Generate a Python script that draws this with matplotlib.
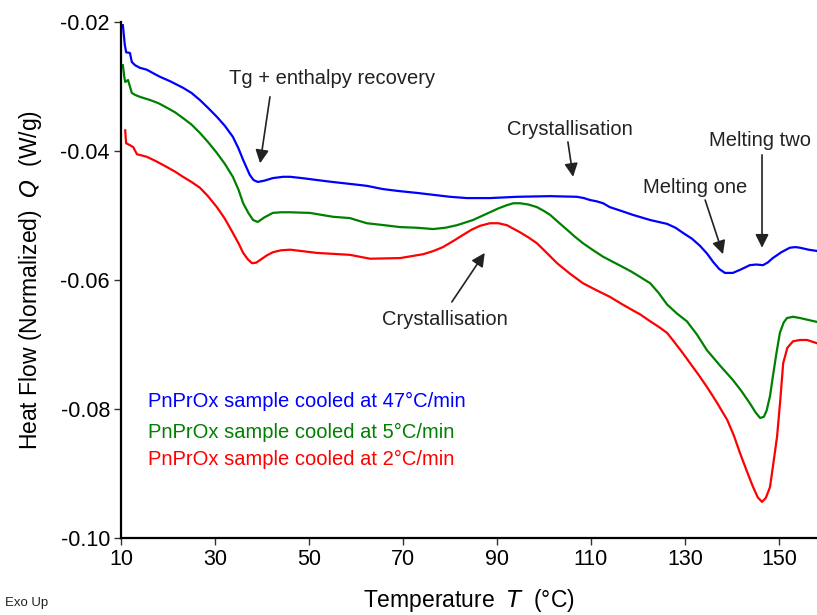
import matplotlib
matplotlib.use("Agg")
import matplotlib.pyplot as plt

plt.rcParams["font.family"] = ["Liberation Sans", "DejaVu Sans"]
plt.rcParams["axes.unicode_minus"] = False

# DSC heating traces (temperature in °C, normalized heat flow in W/g)
t_47 = [10.4, 10.8, 11.1, 11.9, 12.3, 13.0, 14.0, 15.5, 17.0, 18.3, 20.5, 23.2,
        25.0, 26.8, 28.5, 30.4, 32.1, 33.8, 35.0, 36.0, 37.4, 38.2, 39.1, 40.5,
        42.3, 44.5, 46.0, 48.5, 51.7, 55.0, 58.7, 62.3, 65.7, 69.0, 73.0, 76.5,
        80.0, 83.6, 88.5, 94.3, 101.3, 107.0, 108.5, 109.8, 111.2, 112.6, 114.0,
        116.5, 118.9, 122.6, 126.2, 128.0, 129.6, 131.5, 133.2, 134.7, 136.0,
        137.3, 138.5, 140.2, 141.8, 143.8, 145.2, 146.6, 147.6, 148.7, 150.5,
        152.3, 153.5, 154.5, 156.3, 158.1]
q_47 = [-0.0205, -0.0235, -0.0247, -0.0248, -0.0262, -0.0267, -0.0271, -0.0274,
        -0.0280, -0.0285, -0.0292, -0.0302, -0.0310, -0.0321, -0.0333, -0.0347,
        -0.0361, -0.0378, -0.0396, -0.0414, -0.0437, -0.0445, -0.0448, -0.0446,
        -0.0442, -0.0440, -0.0440, -0.0442, -0.0445, -0.0448, -0.0451, -0.0454,
        -0.0459, -0.0462, -0.0465, -0.0468, -0.0471, -0.0473, -0.0473, -0.0471,
        -0.0470, -0.0471, -0.0473, -0.0476, -0.0478, -0.0481, -0.0487, -0.0493,
        -0.0499, -0.0507, -0.0513, -0.0519, -0.0527, -0.0536, -0.0547, -0.0559,
        -0.0572, -0.0583, -0.0589, -0.0589, -0.0584, -0.0577, -0.0576, -0.0577,
        -0.0573, -0.0566, -0.0557, -0.0550, -0.0549, -0.0550, -0.0553, -0.0555]

t_5 = [10.4, 10.7, 10.9, 11.5, 12.3, 13.0, 14.0, 16.2, 18.0, 19.8, 21.5, 23.2,
       25.0, 26.8, 28.5, 30.4, 32.1, 33.8, 35.0, 36.0, 37.1, 38.1, 39.1, 40.5,
       42.3, 44.0, 46.0, 50.2, 55.1, 58.7, 62.3, 66.0, 69.4, 73.0, 76.4, 79.0,
       81.5, 83.2, 84.9, 86.7, 88.5, 90.3, 92.1, 93.5, 94.9, 96.7, 98.5, 100.0,
       101.3, 103.0, 104.9, 106.6, 108.3, 110.5, 112.6, 114.7, 116.8, 118.6,
       120.4, 122.6, 124.4, 126.2, 128.3, 130.4, 132.5, 134.7, 137.5, 140.2,
       142.0, 143.8, 145.0, 146.0, 146.8, 147.4, 148.1, 148.7, 149.5, 150.2,
       151.0, 151.7, 153.0, 154.5, 156.3, 158.1]
q_5 = [-0.0267, -0.0285, -0.0293, -0.0290, -0.0310, -0.0313, -0.0316, -0.0321,
       -0.0326, -0.0333, -0.0340, -0.0349, -0.0359, -0.0372, -0.0386, -0.0403,
       -0.0420, -0.0440, -0.0460, -0.0481, -0.0496, -0.0507, -0.0510, -0.0503,
       -0.0496, -0.0495, -0.0495, -0.0496, -0.0502, -0.0504, -0.0512, -0.0515,
       -0.0518, -0.0519, -0.0521, -0.0519, -0.0515, -0.0511, -0.0507, -0.0501,
       -0.0495, -0.0489, -0.0484, -0.0481, -0.0481, -0.0483, -0.0487, -0.0493,
       -0.0499, -0.0510, -0.0522, -0.0533, -0.0543, -0.0554, -0.0564, -0.0572,
       -0.0580, -0.0587, -0.0595, -0.0605, -0.0620, -0.0638, -0.0652, -0.0664,
       -0.0684, -0.0709, -0.0733, -0.0755, -0.0772, -0.0791, -0.0805, -0.0814,
       -0.0812, -0.0802, -0.0780, -0.0750, -0.0712, -0.0682, -0.0666, -0.0659,
       -0.0657, -0.0659, -0.0662, -0.0665]

t_2 = [10.9, 11.0, 11.1, 11.9, 12.6, 13.4, 15.5, 17.5, 19.8, 21.5, 23.2, 25.0,
       26.8, 28.5, 30.4, 32.1, 33.8, 35.0, 36.0, 37.0, 37.9, 38.8, 39.6, 41.0,
       42.3, 44.0, 46.0, 51.7, 58.7, 63.0, 69.4, 74.3, 76.5, 78.5, 80.6, 82.8,
       84.6, 86.4, 88.5, 90.3, 92.1, 94.9, 96.7, 98.5, 100.6, 102.8, 105.5,
       108.3, 111.2, 114.0, 116.5, 118.9, 120.4, 122.6, 124.5, 126.2, 127.4,
       129.2, 131.1, 132.9, 134.7, 136.8, 139.0, 140.4, 141.7, 143.1, 144.5,
       145.5, 146.4, 147.2, 148.1, 148.8, 149.6, 150.3, 150.9, 151.8, 153.0,
       154.5, 156.0, 158.1]
q_2 = [-0.0368, -0.0380, -0.0388, -0.0391, -0.0394, -0.0405, -0.0409, -0.0416,
       -0.0425, -0.0432, -0.0440, -0.0448, -0.0457, -0.0470, -0.0487, -0.0505,
       -0.0527, -0.0543, -0.0558, -0.0568, -0.0574, -0.0573, -0.0569, -0.0562,
       -0.0557, -0.0554, -0.0553, -0.0558, -0.0561, -0.0567, -0.0566, -0.0560,
       -0.0555, -0.0549, -0.0540, -0.0530, -0.0522, -0.0516, -0.0512, -0.0512,
       -0.0515, -0.0526, -0.0534, -0.0543, -0.0558, -0.0574, -0.0590, -0.0605,
       -0.0616, -0.0626, -0.0637, -0.0647, -0.0653, -0.0664, -0.0673, -0.0682,
       -0.0693, -0.0710, -0.0729, -0.0747, -0.0766, -0.0790, -0.0817, -0.0841,
       -0.0868, -0.0895, -0.0921, -0.0937, -0.0944, -0.0938, -0.0921, -0.0885,
       -0.0843, -0.0785, -0.0729, -0.0705, -0.0695, -0.0693, -0.0693, -0.0698]

series_labels = ["PnPrOx sample cooled at 47°C/min",
                 "PnPrOx sample cooled at 5°C/min",
                 "PnPrOx sample cooled at 2°C/min"]
series_colors = ["#0000ff", "#008000", "#ff0000"]

x_ticks = [10, 30, 50, 70, 90, 110, 130, 150]
y_ticks = [-0.10, -0.08, -0.06, -0.04, -0.02]

fig = plt.figure(figsize=(8.17, 6.15), dpi=100)
ax = fig.add_axes([121 / 817, 77 / 615, 696 / 817, 516 / 615])

for t, q, c in zip([t_47, t_5, t_2], [q_47, q_5, q_2], series_colors):
    ax.plot(t, q, color=c, lw=1.6, solid_joinstyle="round")

ax.set_xlim(10, 158.1)
ax.set_ylim(-0.10, -0.02)
ax.set_xticks(x_ticks)
ax.set_yticks(y_ticks)
ax.set_yticklabels([f"{v:.2f}" for v in y_ticks])
ax.tick_params(axis="both", direction="out", length=5, width=1.0,
               labelsize=15.5, colors="#333333", labelcolor="black", pad=3)
for side in ("top", "right"):
    ax.spines[side].set_visible(False)
for side in ("left", "bottom"):
    ax.spines[side].set_linewidth(1.6)
    ax.spines[side].set_color("black")

ax.set_xlabel("Temperature  $\\mathit{T}$  (°C)", fontsize=16.5, labelpad=12)
ax.set_ylabel("Heat Flow (Normalized)  $\\mathit{Q}$  (W/g)", fontsize=16.5,
              labelpad=12)

# legend drawn as coloured text lines
for lbl, c, y in zip(series_labels, series_colors, [-0.0789, -0.0836, -0.0879]):
    ax.text(15.7, y, lbl, color=c, fontsize=14.5, ha="left", va="center")

arrow = dict(arrowstyle="-|>", color="#222222", lw=1.2, mutation_scale=20,
             shrinkA=0, shrinkB=0)
ann_kw = dict(fontsize=14.5, color="#222222", ha="center", va="center")

ax.annotate("", xy=(39.6, -0.0419), xytext=(41.7, -0.0316), arrowprops=arrow)
ax.text(55.0, -0.0288, "Tg + enthalpy recovery", **ann_kw)

ax.annotate("", xy=(106.2, -0.0440), xytext=(105.1, -0.0386), arrowprops=arrow)
ax.text(105.5, -0.0366, "Crystallisation", **ann_kw)

ax.annotate("", xy=(87.4, -0.0558), xytext=(80.4, -0.0634), arrowprops=arrow)
ax.text(78.9, -0.0662, "Crystallisation", **ann_kw)

ax.annotate("", xy=(138.1, -0.0560), xytext=(134.3, -0.0476), arrowprops=arrow)
ax.text(132.1, -0.0457, "Melting one", **ann_kw)

ax.annotate("", xy=(146.4, -0.0550), xytext=(146.4, -0.0406), arrowprops=arrow)
ax.text(146.0, -0.0383, "Melting two", **ann_kw)

fig.text(5 / 817, 1 - 603 / 615, "Exo Up", fontsize=9.5, color="#222222",
         ha="left", va="center")

fig.savefig("out.png", dpi=100)
